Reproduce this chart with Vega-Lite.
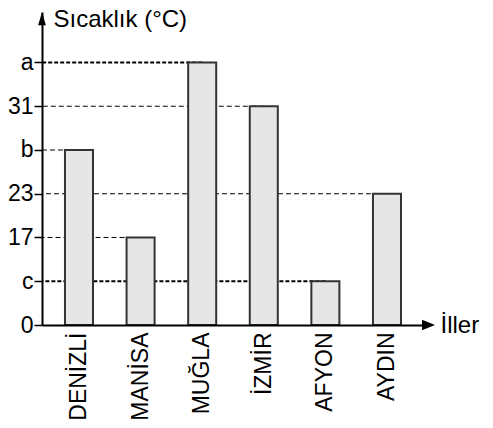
{
  "$schema": "https://vega.github.io/schema/vega-lite/v6.json",
  "width": 388,
  "height": 313,
  "autosize": {"type": "none"},
  "padding": {"left": 42, "top": 12, "right": 63, "bottom": 103},
  "background": "white",
  "config": {
    "view": {"stroke": null},
    "font": "Liberation Sans"
  },
  "datasets": {
    "iller": [
      {"il": "DENİZLİ", "seviye": 4, "etiket": "b"},
      {"il": "MANİSA", "seviye": 2, "etiket": "17"},
      {"il": "MUĞLA", "seviye": 6, "etiket": "a"},
      {"il": "İZMİR", "seviye": 5, "etiket": "31"},
      {"il": "AFYON", "seviye": 1, "etiket": "c"},
      {"il": "AYDIN", "seviye": 3, "etiket": "23"}
    ],
    "ok": [{"eksen": "y"}]
  },
  "data": {"name": "iller"},
  "layer": [
    {
      "mark": {"type": "rule", "color": "black"},
      "encoding": {
        "x": {
          "field": "il", "type": "nominal", "sort": null,
          "scale": {"paddingInner": 0.545, "paddingOuter": 0.422, "align": 0.442},
          "axis": {
            "title": "İller", "titleAngle": 0, "titleX": 398, "titleY": 0,
            "titleAlign": "left", "titleBaseline": "middle", "titleFontSize": 24,
            "titleFontWeight": "normal", "titleColor": "black",
            "labelAngle": -90, "labelFontSize": 23, "labelColor": "black", "labelPadding": 7,
            "ticks": false, "domainColor": "black", "domainWidth": 2, "zindex": 1
          }
        },
        "y": {
          "field": "seviye", "type": "quantitative",
          "scale": {"domain": [0, 7.154], "nice": false, "zero": true},
          "axis": {
            "values": [0, 1, 2, 3, 4, 5, 6],
            "labelExpr": "['0','c','17','23','b','31','a'][datum.value]",
            "labelFontSize": 23, "labelColor": "black", "labelPadding": 1,
            "tickSize": 8, "tickColor": "black", "tickWidth": 1.5,
            "domainColor": "black", "domainWidth": 2, "grid": false, "zindex": 1,
            "title": "Sıcaklık (°C)", "titleAngle": 0, "titleX": 11, "titleY": 7,
            "titleAlign": "left", "titleBaseline": "middle", "titleFontSize": 24,
            "titleFontWeight": "normal", "titleColor": "black"
          }
        },
        "x2": {"value": 0},
        "strokeWidth": {"condition": {"test": "datum.etiket === 'a' || datum.etiket === 'c'", "value": 2}, "value": 1},
        "strokeDash": {"condition": {"test": "datum.etiket === 'a' || datum.etiket === 'c'", "value": [4, 2]}, "value": [5, 3]}
      }
    },
    {
      "mark": {"type": "bar", "fill": "#e6e6e6", "stroke": "#333333", "strokeWidth": 2},
      "encoding": {
        "x": {"field": "il", "type": "nominal", "sort": null},
        "y": {"field": "seviye", "type": "quantitative"}
      }
    },
    {
      "data": {"name": "ok"},
      "mark": {"type": "point", "shape": "M-0.6,1L0,-1L0.6,1Z", "filled": true, "fill": "black", "stroke": null, "size": 169, "opacity": 1},
      "encoding": {
        "x": {"value": 0},
        "y": {"datum": 7.0, "type": "quantitative"}
      }
    },
    {
      "data": {"name": "ok"},
      "mark": {"type": "point", "shape": "M-1,-0.8L1,0L-1,0.8Z", "filled": true, "fill": "black", "stroke": null, "size": 169, "opacity": 1},
      "encoding": {
        "x": {"value": {"expr": "width - 1.5"}},
        "y": {"datum": 0, "type": "quantitative"}
      }
    }
  ]
}
